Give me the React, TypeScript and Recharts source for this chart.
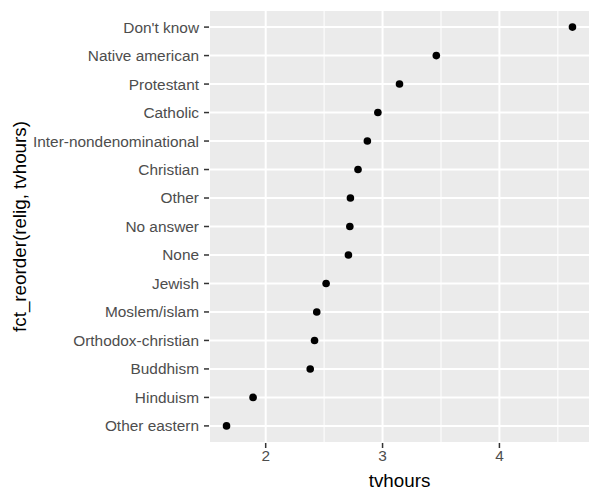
import React from 'react';
import { ScatterChart, Scatter, XAxis, YAxis, CartesianGrid, ReferenceLine } from 'recharts';

// religions listed top to bottom, mean tv hours
const religions = [
  "Don't know",
  'Native american',
  'Protestant',
  'Catholic',
  'Inter-nondenominational',
  'Christian',
  'Other',
  'No answer',
  'None',
  'Jewish',
  'Moslem/islam',
  'Orthodox-christian',
  'Buddhism',
  'Hinduism',
  'Other eastern',
];
const tvhours = [4.625, 3.46, 3.145, 2.96, 2.87, 2.79, 2.725, 2.72, 2.708, 2.517, 2.437, 2.418, 2.381, 1.892, 1.665];
const xTicks = [2, 3, 4];
const xMinor = [2.5, 3.5, 4.5];

const n = religions.length;
const data = religions.map((name, i) => ({ name, x: tvhours[i], y: n - 1 - i }));
const yTicks = data.map((d) => d.y);

const FONT = '"Liberation Sans", Arial, Helvetica, sans-serif';

const Dot = (props: any) => <circle cx={props.cx} cy={props.cy} r={3.8} fill="#000" />;

const YTitle = (props: any) => {
  const vb = props.viewBox || {};
  const cx = 19;
  const cy = vb.y + vb.height / 2;
  return (
    <text
      x={cx}
      y={cy}
      transform={`rotate(-90 ${cx} ${cy})`}
      textAnchor="middle"
      dominantBaseline="central"
      fontSize={18.8}
      fill="#000"
      fontFamily={FONT}
    >
      fct_reorder(relig, tvhours)
    </text>
  );
};

const App = () => {
  return (
    <div style={{ position: 'absolute', left: 0, top: 0, width: 600, height: 500, background: '#fff' }}>
      <ScatterChart width={600} height={500} margin={{ top: 10, right: 10, bottom: 0, left: 0 }}>
        <CartesianGrid fill="#EBEBEB" stroke="#fff" strokeWidth={2} />
        {xMinor.map((v) => (
          <ReferenceLine key={v} x={v} stroke="#fff" strokeWidth={1} />
        ))}
        <XAxis
          type="number"
          dataKey="x"
          domain={[1.515, 4.775]}
          ticks={xTicks}
          allowDataOverflow
          axisLine={false}
          tickLine={{ stroke: '#333', strokeWidth: 1.5 }}
          tickSize={5}
          tickMargin={2}
          height={57}
          tick={{ fill: '#4D4D4D', fontSize: 15.4, fontFamily: FONT }}
          label={{ value: 'tvhours', position: 'insideBottom', offset: 13, fill: '#000', fontSize: 18.8, fontFamily: FONT }}
        />
        <YAxis
          type="number"
          dataKey="y"
          domain={[-0.6, n - 0.4]}
          ticks={yTicks}
          interval={0}
          allowDataOverflow
          axisLine={false}
          tickLine={{ stroke: '#333', strokeWidth: 1.5 }}
          tickSize={5}
          tickMargin={5}
          width={209}
          tickFormatter={(v: number) => religions[n - 1 - v]}
          tick={{ fill: '#4D4D4D', fontSize: 15.4, fontFamily: FONT }}
          label={<YTitle />}
        />
        <Scatter data={data} shape={<Dot />} isAnimationActive={false} />
      </ScatterChart>
    </div>
  );
};

export default App;
